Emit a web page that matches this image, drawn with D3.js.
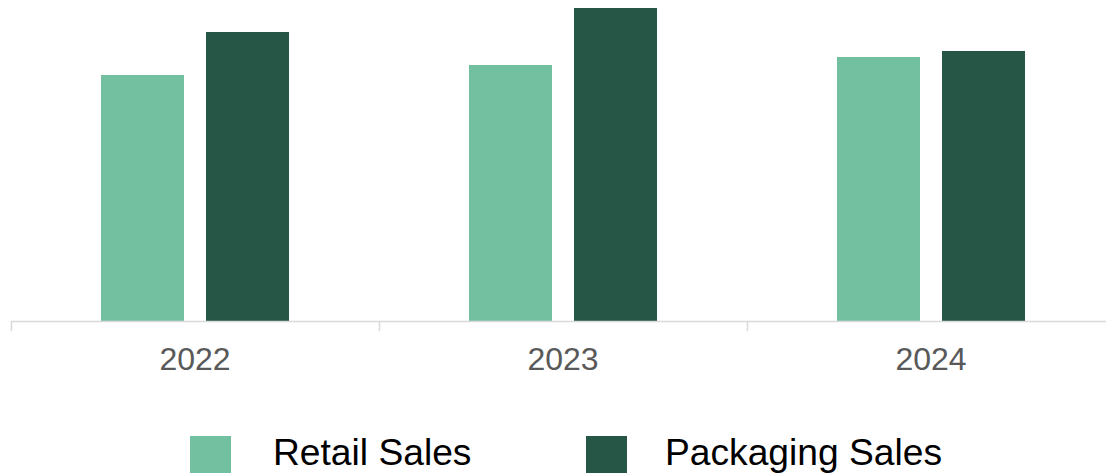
<!DOCTYPE html>
<html>
<head>
<meta charset="utf-8">
<script src="https://cdn.jsdelivr.net/npm/d3@7"></script>
<style>
html,body{margin:0;padding:0;background:#fff;}
svg{display:block;}
</style>
</head>
<body>
<svg id="chart" width="1106" height="476"></svg>
<script>
const years = ["2022", "2023", "2024"];
const seriesNames = ["Retail Sales", "Packaging Sales"];
const retailSales = [24.6, 25.6, 26.4];
const packagingSales = [28.9, 31.3, 27.0];
const seriesColors = ["#72c09f", "#265746"];

const svg = d3.select("#chart");
const baseY = 321, topY = 8;

const x0 = d3.scaleBand().domain(years).range([11, 1115]).padding(0);
const x1 = d3.scaleBand().domain(seriesNames).range([0, x0.bandwidth()])
  .paddingInner(22 / 105).paddingOuter(90 / 105);
const y = d3.scaleLinear().domain([0, 31.3]).range([baseY, topY]);
const color = d3.scaleOrdinal().domain(seriesNames).range(seriesColors);

const data = years.map((yr, i) => ({
  year: yr,
  values: [
    {name: seriesNames[0], value: retailSales[i]},
    {name: seriesNames[1], value: packagingSales[i]}
  ]
}));

const groups = svg.append("g").selectAll("g").data(data).join("g")
  .attr("transform", d => `translate(${x0(d.year)},0)`);
groups.selectAll("rect").data(d => d.values).join("rect")
  .attr("x", d => x1(d.name))
  .attr("y", d => y(d.value))
  .attr("width", x1.bandwidth())
  .attr("height", d => y(0) - y(d.value))
  .attr("fill", d => color(d.name));

// axis
const axis = svg.append("g");
axis.append("line")
  .attr("x1", x0.range()[0]).attr("x2", x0.range()[1])
  .attr("y1", baseY + 0.5).attr("y2", baseY + 0.5)
  .attr("stroke", "#d9d9d9").attr("stroke-width", 1.5);
const tickPos = years.map(yr => x0(yr)).concat([x0(years[years.length - 1]) + x0.bandwidth()]);
axis.selectAll("line.tick").data(tickPos).join("line")
  .attr("class", "tick")
  .attr("x1", d => d + 0.5).attr("x2", d => d + 0.5)
  .attr("y1", baseY).attr("y2", baseY + 10)
  .attr("stroke", "#d9d9d9").attr("stroke-width", 1.5);
axis.selectAll("text").data(years).join("text")
  .attr("x", d => x0(d) + x0.bandwidth() / 2)
  .attr("y", 370)
  .attr("text-anchor", "middle")
  .attr("font-family", "Liberation Sans, Arial, sans-serif")
  .attr("font-size", 32)
  .attr("fill", "#595959")
  .text(d => d);

// legend
const legendX = [190, 586];
const legendTextX = [273, 665];
const legend = svg.append("g").selectAll("g").data(seriesNames).join("g");
legend.append("rect")
  .attr("x", (d, i) => legendX[i]).attr("y", 436)
  .attr("width", 41).attr("height", 37)
  .attr("fill", d => color(d));
legend.append("text")
  .attr("x", (d, i) => legendTextX[i]).attr("y", 465)
  .attr("font-family", "Liberation Sans, Arial, sans-serif")
  .attr("font-size", 37.2)
  .attr("fill", "#000")
  .text(d => d);
</script>
</body>
</html>
